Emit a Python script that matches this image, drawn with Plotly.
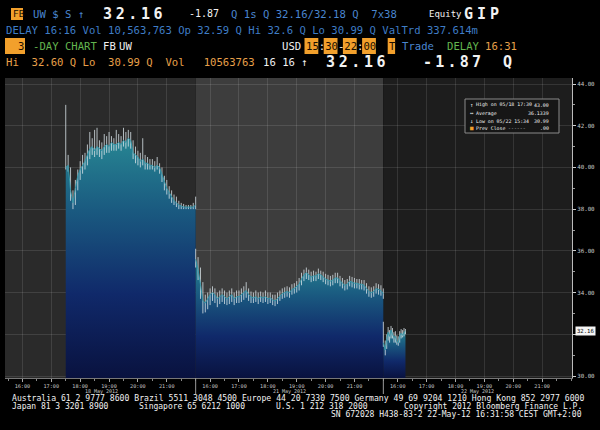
import plotly.graph_objects as go
import pandas as pd

# ---------------- data ----------------
day_labels = ["18 May 2012", "21 May 2012", "22 May 2012"]
hour_ticks = ["16:00", "17:00", "18:00", "19:00", "20:00", "21:00"]
y_ticks = [30, 32, 34, 36, 38, 40, 42, 44]

# 18 May 2012 (5-minute bars from 17:30 to 22:00)
times1 = list(pd.date_range("2012-05-18 17:30", "2012-05-18 22:00", freq="5min").strftime("%H:%M"))
close1 = [40.00, 40.10, 38.90, 38.30, 39.00, 39.60, 39.90, 40.10, 40.30, 40.60,
          40.90, 41.00, 40.80, 41.00, 40.90, 40.80, 41.00, 41.10, 41.00, 41.20,
          41.10, 41.10, 41.20, 41.10, 41.30, 41.20, 41.40, 41.30, 40.70, 40.60,
          40.50, 40.30, 40.40, 40.20, 40.20, 40.10, 40.10, 40.00, 40.10, 40.00,
          39.70, 39.30, 39.00, 38.80, 38.60, 38.40, 38.30, 38.20, 38.15, 38.10,
          38.10, 38.10, 38.10, 38.10, 38.20]
high1 = [43.00, 40.60, 40.00, 38.90, 39.40, 39.90, 40.30, 40.60, 40.70, 41.10,
         41.70, 41.40, 41.80, 41.90, 41.30, 41.20, 41.60, 41.50, 41.70, 41.50,
         41.40, 41.80, 41.60, 41.50, 41.90, 41.70, 41.80, 41.70, 41.30, 41.00,
         40.80, 40.70, 41.40, 40.60, 40.50, 40.40, 40.40, 40.30, 40.50, 40.20,
         40.00, 39.60, 39.40, 39.10, 38.90, 38.70, 38.60, 38.40, 38.30, 38.25,
         38.20, 38.20, 38.20, 38.30, 38.60]
low1 = [39.90, 39.80, 38.40, 38.00, 38.20, 38.90, 39.40, 39.70, 39.90, 40.10,
        40.40, 40.60, 40.50, 40.60, 40.50, 40.40, 40.60, 40.70, 40.70, 40.80,
        40.80, 40.80, 40.90, 40.80, 41.00, 40.90, 41.00, 40.90, 40.40, 40.20,
        40.10, 40.00, 40.10, 39.90, 39.90, 39.90, 39.90, 39.80, 39.90, 39.70,
        39.30, 38.90, 38.70, 38.50, 38.30, 38.20, 38.10, 38.00, 38.00, 38.00,
        38.00, 38.00, 38.00, 38.00, 38.00]

# 21 May 2012 (5-minute bars from 15:30 to 22:00)
times2 = list(pd.date_range("2012-05-21 15:30", "2012-05-21 22:00", freq="5min").strftime("%H:%M"))
close2 = [35.60, 35.10, 34.40, 33.60, 33.50, 33.70, 33.90, 34.00, 33.90, 33.70,
          33.80, 33.90, 33.80, 33.70, 33.80, 33.90, 33.70, 33.80, 33.80, 33.90,
          34.00, 34.10, 33.90, 33.80, 33.75, 33.80, 33.70, 33.80, 33.75, 33.80,
          33.70, 33.75, 33.65, 33.60, 33.70, 33.85, 33.95, 34.00, 34.05, 34.00,
          34.15, 34.20, 34.30, 34.40, 34.65, 34.85, 34.95, 34.85, 34.75, 34.80,
          34.80, 34.90, 34.85, 34.75, 34.65, 34.60, 34.55, 34.60, 34.70, 34.70,
          34.55, 34.45, 34.35, 34.40, 34.55, 34.50, 34.45, 34.45, 34.40, 34.40,
          34.35, 34.20, 34.05, 34.00, 34.05, 34.20, 34.15, 34.10, 33.95]
high2 = [36.10, 35.70, 35.20, 34.50, 33.90, 34.00, 34.20, 34.30, 34.20, 34.00,
         34.10, 34.20, 34.10, 34.00, 34.10, 34.20, 34.00, 34.10, 34.10, 34.20,
         34.30, 34.50, 34.20, 34.05, 34.00, 34.10, 34.00, 34.05, 34.00, 34.10,
         34.00, 34.00, 33.90, 33.90, 34.00, 34.10, 34.20, 34.25, 34.30, 34.25,
         34.40, 34.45, 34.55, 34.70, 34.95, 35.10, 35.20, 35.10, 35.00, 35.05,
         35.00, 35.15, 35.05, 35.00, 34.90, 34.85, 34.80, 34.85, 34.95, 34.95,
         34.80, 34.70, 34.60, 34.65, 34.80, 34.75, 34.70, 34.65, 34.65, 34.60,
         34.60, 34.45, 34.30, 34.25, 34.30, 34.45, 34.40, 34.35, 34.20]
low2 = [35.20, 34.60, 33.70, 33.00, 33.05, 33.20, 33.40, 33.60, 33.50, 33.30,
        33.45, 33.55, 33.45, 33.40, 33.45, 33.55, 33.40, 33.50, 33.50, 33.55,
        33.65, 33.75, 33.60, 33.50, 33.50, 33.55, 33.45, 33.55, 33.50, 33.55,
        33.45, 33.50, 33.40, 33.35, 33.45, 33.60, 33.70, 33.75, 33.80, 33.75,
        33.90, 33.95, 34.00, 34.10, 34.35, 34.55, 34.65, 34.60, 34.50, 34.55,
        34.55, 34.65, 34.60, 34.50, 34.40, 34.35, 34.30, 34.35, 34.45, 34.45,
        34.30, 34.20, 34.10, 34.15, 34.30, 34.25, 34.20, 34.20, 34.15, 34.15,
        34.10, 33.95, 33.80, 33.75, 33.80, 33.95, 33.90, 33.85, 33.70]

# 22 May 2012 (up to 16:16)
times3 = ["15:30", "15:34", "15:37", "15:40", "15:43", "15:46", "15:49", "15:52",
          "15:55", "15:58", "16:01", "16:04", "16:07", "16:10", "16:13", "16:16"]
close3 = [31.60, 31.25, 31.80, 32.10, 31.90, 32.20, 32.00, 31.85,
          31.90, 31.65, 31.60, 31.95, 32.05, 31.95, 32.10, 32.16]
high3 = [32.60, 31.70, 32.00, 32.35, 32.20, 32.40, 32.30, 32.10,
         32.15, 31.95, 31.90, 32.15, 32.25, 32.20, 32.30, 32.25]
low3 = [31.40, 30.99, 31.30, 31.70, 31.60, 31.80, 31.80, 31.60,
        31.60, 31.50, 31.45, 31.60, 31.80, 31.85, 31.90, 32.00]

last_price = 32.16

# ---------------- helpers ----------------
SESSION_START = 15.5
SESSION_LEN = 6.5


def hx(day, t):
    h, m = t.split(":")
    return day * SESSION_LEN + int(h) + int(m) / 60 - SESSION_START


W, H = 600, 430
L, R, T, B = 5, 28, 78, 52
PW, PH = W - L - R, H - T - B


def px(x):
    return (x - L) / PW


def py(y):
    return (H - B - y) / PH


MONO = "DejaVu Sans Mono"
BLUE = "#4a86d0"
BLUE2 = "#3f7dc6"
GREEN = "#63b54f"
ORANGE_BG = "#f2a02c"
ORANGE_T = "#e9a04a"
DARK = "#1a0e00"
WHITE = "#f2f2f2"
TICK = "#c8c8c8"

fig = go.Figure()

colorscale = [[0, "#09123f"], [0.35, "#10296a"], [0.7, "#1a5a80"], [1, "#278693"]]
days = [(times1, close1, high1, low1), (times2, close2, high2, low2), (times3, close3, high3, low3)]
for d, (tt, cc, hh, ll) in enumerate(days):
    xs = [hx(d, t) for t in tt]
    fig.add_trace(go.Scatter(
        x=xs, y=cc, mode="lines", fill="tozeroy",
        line=dict(color="#3596a8", width=1),
        fillgradient=dict(type="vertical", colorscale=colorscale, start=29.9, stop=max(cc)),
        error_y=dict(type="data", symmetric=False,
                     array=[h - c for h, c in zip(hh, cc)],
                     arrayminus=[c - l for c, l in zip(cc, ll)],
                     color="rgba(215,225,230,0.8)", thickness=1, width=0),
        hoverinfo="skip", showlegend=False,
    ))

xmin = -3 / 28.87
xmax = 3 * SESSION_LEN + 1 / 28.87
ymin = 30 - 2 / 20.857
ymax = 44 + 6 / 20.857

shapes = []
bg_cols = ["#2a2a2a", "#3d3d3d", "#1d1d1d"]
edges = [xmin, SESSION_LEN, 2 * SESSION_LEN, xmax]
for i in range(3):
    shapes.append(dict(type="rect", xref="x", yref="paper", x0=edges[i], x1=edges[i + 1],
                       y0=0, y1=1, fillcolor=bg_cols[i], line=dict(width=0), layer="below"))
for xd in [SESSION_LEN, 2 * SESSION_LEN]:
    shapes.append(dict(type="line", xref="x", yref="paper", x0=xd, x1=xd, y0=0, y1=py(394),
                       line=dict(color="#9a9a9a", width=1)))

ann = []


def text(x, y, s, color, size=10.6, anchor="left", family=MONO, bg=None):
    a = dict(xref="paper", yref="paper", x=px(x), y=py(y), text=s, showarrow=False,
             xanchor=anchor, yanchor="middle", borderpad=0,
             font=dict(family=family, size=size, color=color))
    if bg:
        a["bgcolor"] = bg
    ann.append(a)


def big(x, y, s, ls=3.6):
    text(x, y, '<b><span style="letter-spacing:%.1fpx">%s</span></b>' % (ls, s), WHITE, size=15)


def box(x0, y0, x1, y1, col=ORANGE_BG):
    shapes.append(dict(type="rect", xref="paper", yref="paper", x0=px(x0), x1=px(x1),
                       y0=py(y1), y1=py(y0), fillcolor=col, line=dict(width=0)))


NB = "\u00a0"
# Row 1
box(11, 8, 23, 20)
text(11.5, 14, "FB", DARK, size=9.5)
text(32, 14, "UW $ S ↑", BLUE)
big(102, 14, "32.16")
text(188, 14, "-1.87", WHITE, size=10)
text(230, 14, "Q 1s Q 32.16/32.18 Q" + NB * 2 + "7x38", BLUE)
text(428, 14, "Equity", WHITE, size=9)
big(463, 14, "GIP", ls=4)
# Row 2
text(5, 30, "DELAY 16:16 Vol 10,563,763 Op 32.59 Q Hi 32.6 Q Lo 30.99 Q ValTrd 337.614m", BLUE2)
# Row 3
box(5, 38, 25, 54)
text(25, 46, "3", DARK, anchor="right")
text(32, 46, "-DAY CHART", GREEN)
text(102, 46, "FB", WHITE)
text(118, 46, "UW", WHITE)
text(281, 46, "USD", WHITE)
for bx in [305, 324.2, 343.4, 362.6, 388.2]:
    box(bx - 0.5, 38, bx + (6.4 if bx > 388 else 12.8) + 0.5, 54)
sep = '<span style="fill:%s">%%s</span>' % WHITE
text(305, 46, "15" + sep % ":" + "30" + sep % "-" + "22" + sep % ":" + "00", DARK)
text(388.2, 46, "T", DARK)
text(401, 46, "Trade", BLUE)
text(446, 46, "DELAY", GREEN)
text(484, 46, "16:31", ORANGE_T)
# Row 4
text(5, 62, "Hi" + NB * 2 + "32.60 Q Lo" + NB * 2 + "30.99 Q" + NB * 2 + "Vol" + NB * 3 + "10563763", ORANGE_T)
text(262, 62, "16" + NB + "16", WHITE)
text(300, 62, "↑", WHITE)
big(325, 62, "32.16")
big(422, 62, "-1.87", ls=3.2)
big(502, 62, "Q")

# Footer
FS = 8.0
text(11, 398, "Australia 61 2 9777 8600 Brazil 5511 3048 4500 Europe 44 20 7330 7500 Germany 49 69 9204 1210 Hong Kong 852 2977 6000", WHITE, size=8.15)
text(11, 406, "Japan 81 3 3201 8900", WHITE, size=FS)
text(138, 406, "Singapore 65 6212 1000", WHITE, size=FS)
text(275, 406, "U.S. 1 212 318 2000", WHITE, size=FS)
text(583, 406, "Copyright 2012 Bloomberg Finance L.P.", WHITE, size=FS, anchor="right")
text(583, 414, "SN 672028 H438-83-2 22-May-12 16:31:58 CEST GMT+2:00", WHITE, size=FS, anchor="right")

# Day labels
for d, lab in enumerate(day_labels):
    ann.append(dict(xref="x", yref="paper", x=d * SESSION_LEN + SESSION_LEN / 2, y=py(391.5),
                    text=lab, showarrow=False, xanchor="center", yanchor="middle", borderpad=0,
                    font=dict(family=MONO, size=5.0, color=TICK)))

# Legend box
box(465, 99, 559, 133, col="#161616")
shapes[-1]["line"] = dict(color="#8a8a8a", width=1)
LS = 4.9
rows = [(105, "↑", "High on 05/18 17:30", "%.2f" % max(high1 + high2 + high3), WHITE),
        (113, "↔", "Average", "36.1339", WHITE),
        (120.5, "↓", "Low on 05/22 15:34", "%.2f" % min(low1 + low2 + low3), WHITE),
        (127.5, "■", "Prev Close", ".00", ORANGE_BG)]
for yy, ic, lab, val, icc in rows:
    text(469, yy, ic, icc, size=LS + 0.8)
    text(475, yy, lab, WHITE, size=LS)
    text(550, yy, val, WHITE, size=LS, anchor="right")
text(507, 127.5, "------", "#bbbbbb", size=LS)

# Last price tag (covers the 32.00 level)
ann.append(dict(xref="paper", yref="y", x=px(575), y=last_price, text="%.2f" % last_price,
                showarrow=False, xanchor="left", yanchor="middle", bgcolor="#f4f4f4", borderpad=1,
                font=dict(family=MONO, size=5.6, color="#000000")))

tickvals = [hx(d, t) for d in range(3) for t in hour_ticks]
ticktext = hour_ticks * 3
ytext = ["" if v == 32 else "%.2f" % v for v in y_ticks]

fig.update_layout(
    width=W, height=H, margin=dict(l=L, r=R, t=T, b=B, autoexpand=False),
    paper_bgcolor="#000000", plot_bgcolor="#000000",
    shapes=shapes, annotations=ann, showlegend=False,
    xaxis=dict(range=[xmin, xmax], tickmode="array", tickvals=tickvals, ticktext=ticktext,
               showgrid=True, gridcolor="rgba(255,255,255,0.11)", gridwidth=1,
               ticks="outside", ticklen=3, tickcolor="#aaaaaa",
               minor=dict(tick0=0, dtick=0.5, ticks="outside", ticklen=2, tickcolor="#888888", showgrid=False),
               tickfont=dict(family=MONO, size=5.2, color=TICK),
               showline=True, linecolor="#777777", zeroline=False, fixedrange=True, automargin=False),
    yaxis=dict(range=[ymin, ymax], side="right", tickmode="array", tickvals=y_ticks,
               ticktext=ytext,
               showgrid=True, gridcolor="rgba(255,255,255,0.11)", gridwidth=1,
               ticks="outside", ticklen=3, tickcolor="#cccccc",
               minor=dict(dtick=1, ticks="outside", ticklen=2, tickcolor="#999999", showgrid=False),
               tickfont=dict(family=MONO, size=5.8, color=TICK),
               showline=True, linecolor="#bbbbbb", zeroline=False, fixedrange=True, automargin=False),
)

fig.write_html("out.html", config={"displayModeBar": False},
               post_script="document.body.style.margin='0px';document.body.style.background='#000';")
